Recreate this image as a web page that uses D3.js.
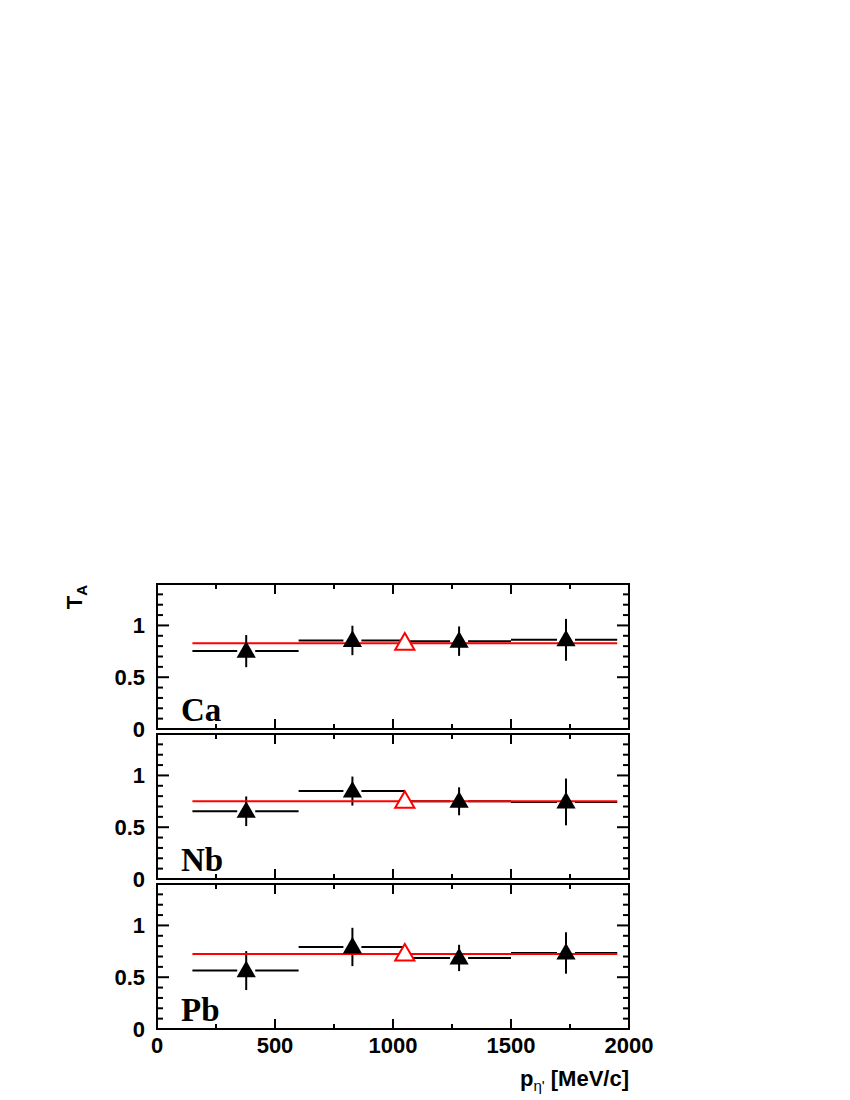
<!DOCTYPE html>
<html>
<head>
<meta charset="utf-8">
<script src="https://cdn.jsdelivr.net/npm/d3@7"></script>
<style>
  body { margin: 0; background: #fff; }
</style>
</head>
<body>
<script>
const width = 850;
const height = 1100;

// data: T_A vs p_eta' for three targets
const nuclei = ["Ca", "Nb", "Pb"];
const binLow = [150, 600, 1050, 1500];
const binHigh = [600, 1050, 1500, 1950];
const pMean = [378, 828, 1280, 1733];
const taCa = [0.752, 0.855, 0.848, 0.861];
const errCa = [0.155, 0.142, 0.142, 0.202];
const taNb = [0.654, 0.849, 0.750, 0.744];
const errNb = [0.143, 0.140, 0.135, 0.226];
const taPb = [0.564, 0.792, 0.686, 0.734];
const errPb = [0.188, 0.185, 0.127, 0.200];
const fitValue = [0.829, 0.750, 0.724];  // constant fit, red line
const fitRange = [150, 1950];
const fitMarkerP = 1050;
const xTicks = [0, 500, 1000, 1500, 2000];
const yTicks = [0, 0.5, 1];

const taAll = [taCa, taNb, taPb];
const errAll = [errCa, errNb, errPb];

const svg = d3.select("body").append("svg")
    .attr("width", width)
    .attr("height", height);

const left = 157, right = 629;
const panelTop = [584, 734, 884];
const panelH = 145;

const x = d3.scaleLinear().domain([0, 2000]).range([left, right]);

const tickFont = "'Liberation Sans', Arial, sans-serif";
const tri = d3.symbol().type(d3.symbolTriangle).size(160);

nuclei.forEach((name, k) => {
    const top = panelTop[k], bottom = top + panelH;
    const y = d3.scaleLinear().domain([0, 1.4]).range([bottom, top]);
    const g = svg.append("g");

    // ticks on all four sides, pointing inward
    const xMinor = d3.range(0, 2001, 250);
    xMinor.forEach(v => {
        const len = v % 500 === 0 ? 10 : 5;
        g.append("line").attr("x1", x(v)).attr("x2", x(v))
            .attr("y1", bottom).attr("y2", bottom - len)
            .attr("stroke", "#000").attr("stroke-width", 2);
        g.append("line").attr("x1", x(v)).attr("x2", x(v))
            .attr("y1", top).attr("y2", top + len)
            .attr("stroke", "#000").attr("stroke-width", 2);
    });
    const yMinor = d3.range(0, 15).map(i => i / 10);
    yMinor.forEach(v => {
        const len = (Math.round(v * 10) % 5 === 0) ? 12 : 6;
        g.append("line").attr("x1", left).attr("x2", left + len)
            .attr("y1", y(v)).attr("y2", y(v))
            .attr("stroke", "#000").attr("stroke-width", 2);
        g.append("line").attr("x1", right).attr("x2", right - len)
            .attr("y1", y(v)).attr("y2", y(v))
            .attr("stroke", "#000").attr("stroke-width", 2);
    });

    // frame
    g.append("rect")
        .attr("x", left).attr("y", top)
        .attr("width", right - left).attr("height", panelH)
        .attr("fill", "none").attr("stroke", "#000").attr("stroke-width", 2);

    // y tick labels
    g.selectAll(".ylab").data(yTicks).enter().append("text")
        .attr("x", left - 12)
        .attr("y", d => y(d))
        .attr("dy", "0.36em")
        .attr("text-anchor", "end")
        .attr("font-family", tickFont)
        .attr("font-weight", "bold")
        .attr("font-size", 22)
        .text(d => d3.format("~g")(d));

    const ta = taAll[k], err = errAll[k];
    const gap = 9;

    // horizontal bin bars, broken around the marker
    ta.forEach((v, i) => {
        g.append("line")
            .attr("x1", x(binLow[i])).attr("x2", x(pMean[i]) - gap)
            .attr("y1", y(v)).attr("y2", y(v))
            .attr("stroke", "#000").attr("stroke-width", 2);
        g.append("line")
            .attr("x1", x(pMean[i]) + gap).attr("x2", x(binHigh[i]))
            .attr("y1", y(v)).attr("y2", y(v))
            .attr("stroke", "#000").attr("stroke-width", 2);
        g.append("line")
            .attr("x1", x(pMean[i])).attr("x2", x(pMean[i]))
            .attr("y1", y(v - err[i])).attr("y2", y(v + err[i]))
            .attr("stroke", "#000").attr("stroke-width", 2);
    });

    // fit line
    g.append("line")
        .attr("x1", x(fitRange[0])).attr("x2", x(fitRange[1]))
        .attr("y1", y(fitValue[k])).attr("y2", y(fitValue[k]))
        .attr("stroke", "#ff0000").attr("stroke-width", 2);

    // data markers
    g.selectAll(".pt").data(ta).enter().append("path")
        .attr("d", tri)
        .attr("transform", (d, i) => `translate(${x(pMean[i])},${y(d) + 1})`)
        .attr("fill", "#000");

    // fit marker
    g.append("path")
        .attr("d", tri)
        .attr("transform", `translate(${x(fitMarkerP)},${y(fitValue[k]) + 1})`)
        .attr("fill", "#fff")
        .attr("stroke", "#ff0000").attr("stroke-width", 2);

    // target label
    g.append("text")
        .attr("x", left + 24)
        .attr("y", bottom - 8)
        .attr("font-family", "'Liberation Serif', 'Times New Roman', serif")
        .attr("font-weight", "bold")
        .attr("font-size", 33)
        .text(name);

    if (k === 2) {
        g.selectAll(".xlab").data(xTicks).enter().append("text")
            .attr("x", d => x(d))
            .attr("y", bottom + 24)
            .attr("text-anchor", "middle")
            .attr("font-family", tickFont)
            .attr("font-weight", "bold")
            .attr("font-size", 22)
            .text(d => d);
    }
});

// y title T_A
const yt = svg.append("text")
    .attr("transform", `translate(82,${panelTop[0] + 1}) rotate(-90)`)
    .attr("text-anchor", "end")
    .attr("font-family", tickFont)
    .attr("font-weight", "bold")
    .attr("font-size", 22);
yt.append("tspan").text("T");
yt.append("tspan").attr("font-size", 15).attr("dy", 5).text("A");

// x title p_eta' [MeV/c]
const xt = svg.append("text")
    .attr("x", right)
    .attr("y", 1086)
    .attr("text-anchor", "end")
    .attr("font-family", tickFont)
    .attr("font-weight", "bold")
    .attr("font-size", 22);
xt.append("tspan").text("p");
xt.append("tspan").attr("font-size", 15).attr("font-weight", "normal").attr("dy", 5).text("η'");
xt.append("tspan").attr("dy", -5).text(" [MeV/c]");
</script>
</body>
</html>
